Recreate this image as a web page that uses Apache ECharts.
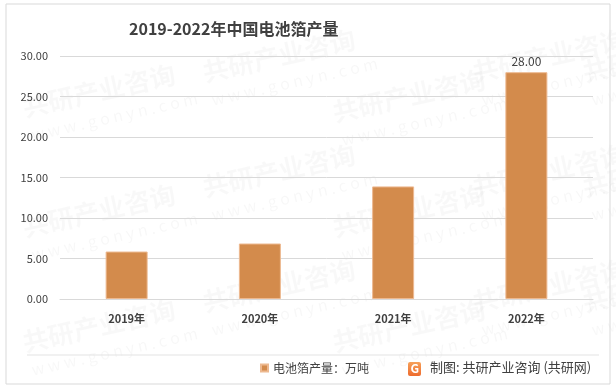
<!DOCTYPE html>
<html>
<head>
<meta charset="utf-8">
<script src="https://cdn.jsdelivr.net/npm/echarts@6/dist/echarts.min.js"></script>
<style>
html,body{margin:0;padding:0;background:#fff;}
#c{width:616px;height:387px;}
</style>
</head>
<body>
<div id="c"></div>
<script>
var categories = ['2019年', '2020年', '2021年', '2022年'];
var values = [5.86, 6.85, 13.9, 28.0];
var seriesName = '电池箔产量：万吨';
var titleText = '2019-2022年中国电池箔产量';
var sourceText = '制图: 共研产业咨询 (共研网)';

var chart = echarts.init(document.getElementById('c'), null, {renderer: 'canvas'});
var FONT = '"Noto Sans CJK SC", "Noto Sans", sans-serif';

var wm = [];
var wmPos = [[20,95],[20,215],[20,330],[200,60],[200,175],[200,290],[330,100],[330,215],[330,330],[470,60],[470,175],[470,290],[580,60],[580,175],[580,290]];
wmPos.forEach(function(p){
  wm.push({type:'text', x:p[0], y:p[1], rotation: 0.22, silent:true, z:-1,
    style:{text:'共研产业咨询', fill:'rgba(0,0,0,0.028)', font:'bold 26px ' + FONT}});
  wm.push({type:'text', x:p[0]+10, y:p[1]+32, rotation: 0.22, silent:true, z:-1,
    style:{text:'w w w . g o n y n . c o m', fill:'rgba(0,0,0,0.03)', font:'16px ' + FONT}});
});

chart.setOption({
  backgroundColor: '#fff',
  animation: false,
  title: {
    text: titleText,
    left: 129, top: 21, padding: 0,
    textStyle: {fontFamily: FONT, fontSize: 16, fontWeight: 'bold', color: '#404040'}
  },
  legend: {
    data: [seriesName],
    left: 255, top: 357,
    itemWidth: 7, itemHeight: 7, itemGap: 4,
    icon: 'rect',
    textStyle: {fontFamily: FONT, fontSize: 12, color: '#404040'}
  },
  grid: {left: 60, right: 23, top: 56, bottom: 88, containLabel: false},
  xAxis: {
    type: 'category',
    data: categories,
    axisLine: {show: true, lineStyle: {color: '#d9d9d9'}},
    axisTick: {show: false},
    axisLabel: {fontFamily: FONT, fontSize: 11, color: '#404040', fontWeight: 'bold', margin: 14}
  },
  yAxis: {
    type: 'value',
    min: 0, max: 30, interval: 5,
    axisLine: {show: false},
    axisTick: {show: false},
    splitLine: {lineStyle: {color: '#d9d9d9'}},
    axisLabel: {fontFamily: FONT, fontSize: 11, color: '#404040', margin: 12,
      formatter: function(v){ return v.toFixed(2); }}
  },
  series: [{
    name: seriesName,
    type: 'bar',
    data: values.map(function(v, i){
      return {value: v, label: {show: i === values.length - 1}};
    }),
    barWidth: 42,
    itemStyle: {color: '#D38B4C', borderColor: '#EDB990', borderWidth: 1},
    label: {position: 'top', distance: 5, fontFamily: FONT, fontSize: 12, color: '#404040',
      formatter: function(p){ return p.value.toFixed(2); }}
  }],
  graphic: wm.concat([
    {type:'rect', shape:{x:6, y:4, width:604, height:380}, style:{fill:'none', stroke:'#d9d9d9', lineWidth:1}, silent:true},
    {type:'line', shape:{x1:27, y1:355, x2:599, y2:355}, style:{stroke:'#e3e3e3', lineWidth:1}, silent:true},
    {type:'rect', shape:{x:408, y:362, width:13, height:14, r:2},
      style:{fill:{type:'linear', x:0, y:0, x2:0, y2:1, colorStops:[{offset:0, color:'#F6A15A'},{offset:1, color:'#EE6B2D'}]}}, silent:true},
    {type:'text', x:410.5, y:362, style:{text:'G', fill:'#fff', font:'bold 12px ' + FONT}, silent:true},
    {type:'text', x:430, y:361, style:{text:sourceText, fill:'#404040', font:'13px ' + FONT}, silent:true}
  ])
});
</script>
</body>
</html>
